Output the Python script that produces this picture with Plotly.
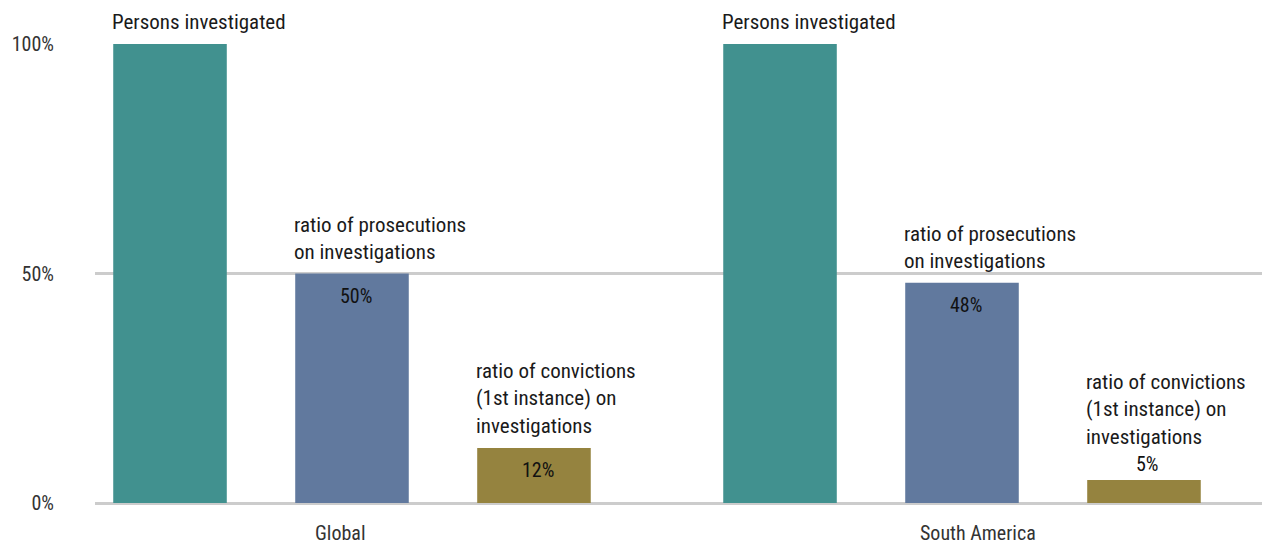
import plotly.graph_objects as go

# Chart data
regions = ["Global", "South America"]
series_names = [
    "Persons investigated",
    "ratio of prosecutions<br>on investigations",
    "ratio of convictions<br>(1st instance) on<br>investigations",
]
persons_investigated = [100, 100]
prosecutions_ratio = [50, 48]
convictions_ratio = [12, 5]
show_values = [False, True, True]
region_label_shift = [-12, 16]

series_values = [persons_investigated, prosecutions_ratio, convictions_ratio]
colors = ["#41918F", "#61799E", "#95833F"]

FONT = "Roboto Condensed, Roboto, Arial, sans-serif"
BARGAP = 0.105
BARGROUPGAP = 0.376

fig = go.Figure()
for name, vals, col in zip(series_names, series_values, colors):
    fig.add_trace(go.Bar(
        x=list(range(len(regions))), y=vals, name=name,
        marker=dict(color=col, line=dict(width=0)),
        hoverinfo="skip",
    ))

# Geometry of grouped bars in category units
slot_w = (1 - BARGAP) / len(series_values)
bar_w = slot_w * (1 - BARGROUPGAP)

annotations = []
for ci, region in enumerate(regions):
    # region label under the axis
    annotations.append(dict(
        x=ci, y=0, xref="x", yref="paper",
        text=region, showarrow=False,
        xanchor="center", yanchor="top",
        xshift=region_label_shift[ci], yshift=-16,
        font=dict(family=FONT, size=20, color="#333333"),
    ))
    for si, (name, vals) in enumerate(zip(series_names, series_values)):
        v = vals[ci]
        center = ci + (si - (len(series_values) - 1) / 2) * slot_w
        left = center - bar_w / 2
        inside = v >= 10
        extra = 0
        if show_values[si]:
            # value label: inside the top of the bar, or just above a short bar
            annotations.append(dict(
                x=center, y=v, xref="x", yref="y",
                text=f"{v}%", showarrow=False,
                xanchor="center", yanchor="middle",
                xshift=4, yshift=-22 if inside else 16,
                font=dict(family=FONT, size=20, color="#111111"),
            ))
            if not inside:
                extra = 21
        # series name above the bar
        annotations.append(dict(
            x=left, y=v, xref="x", yref="y",
            text=name, showarrow=False, align="left",
            xanchor="left", yanchor="bottom",
            xshift=-3, yshift=8 + extra,
            font=dict(family=FONT, size=21, color="#1a1a1a"),
        ))

fig.update_layout(
    width=1267, height=548,
    margin=dict(l=95, r=5, t=44, b=45),
    paper_bgcolor="white", plot_bgcolor="white",
    barmode="group", bargap=BARGAP, bargroupgap=BARGROUPGAP,
    showlegend=False,
    annotations=annotations,
    font=dict(family=FONT),
)
fig.update_xaxes(
    range=[-0.4213, 1.4918],
    showgrid=False, zeroline=False, showline=False, ticks="",
    showticklabels=False,
)
fig.update_yaxes(
    range=[0, 100],
    tickvals=[0, 50, 100], ticktext=["0%", "50%", "100%"],
    showgrid=True, gridcolor="#cccccc", gridwidth=2.5,
    zeroline=True, zerolinecolor="#cccccc", zerolinewidth=3,
    showline=False, ticks="",
    tickfont=dict(family=FONT, size=20, color="#333333"),
    ticklabelstandoff=40,
)

fig.write_html("out.html")
